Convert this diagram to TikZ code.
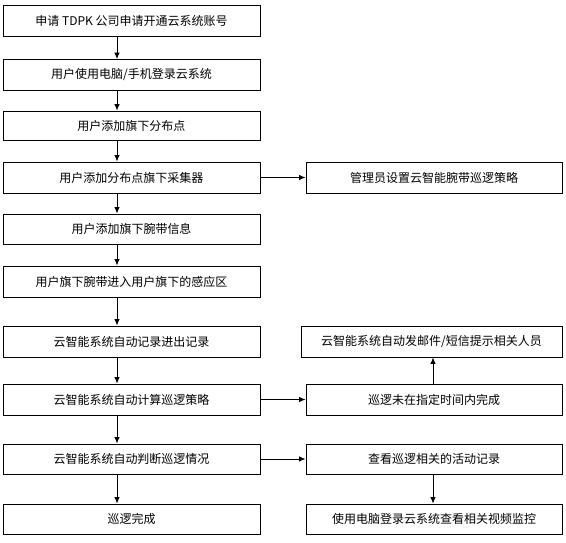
\documentclass[tikz,border=0pt]{standalone}
\usepackage{fontspec}
\setmainfont{Noto Sans CJK SC}
\usetikzlibrary{arrows.meta,calc}
\begin{document}
\begin{tikzpicture}[x=1pt,y=-1pt,
  box/.style={draw=black,line width=0.9pt,inner sep=0pt,font=\fontsize{12}{14}\selectfont},
  lbox/.style={box,minimum width=257pt,minimum height=31pt},
  rbox/.style={box,minimum width=256pt,minimum height=31pt},
  arr/.style={-{Latex[length=6.5pt,width=5.5pt]},line width=0.9pt}]
\useasboundingbox (0,0) rectangle (566,543);
\node[lbox] (l1) at (131.5,20.5) {申请 TDPK 公司申请开通云系统账号};
\node[lbox] (l2) at (131.5,75) {用户使用电脑/手机登录云系统};
\node[lbox,minimum height=29pt] (l3) at (131.5,125.5) {用户添加旗下分布点};
\node[lbox] (l4) at (131.5,177.5) {用户添加分布点旗下采集器};
\node[lbox,minimum height=30pt] (l5) at (131.5,229) {用户添加旗下腕带信息};
\node[lbox] (l6) at (131.5,281.5) {用户旗下腕带进入用户旗下的感应区};
\node[lbox] (l7) at (131.5,341.5) {云智能系统自动记录进出记录};
\node[lbox] (l8) at (131.5,399.5) {云智能系统自动计算巡逻策略};
\node[lbox,minimum height=30pt] (l9) at (131.5,459) {云智能系统自动判断巡逻情况};
\node[lbox,minimum height=30pt] (l10) at (131.5,519) {巡逻完成};
\node[rbox] (r4) at (434,177.5) {管理员设置云智能腕带巡逻策略};
\node[box,minimum width=261pt,minimum height=31pt] (r7) at (431.5,341.5) {云智能系统自动发邮件/短信提示相关人员};
\node[rbox] (r8) at (434,399.5) {巡逻未在指定时间内完成};
\node[rbox,minimum height=30pt] (r9) at (434,459) {查看巡逻相关的活动记录};
\node[rbox,minimum height=30pt] (r10) at (434,519) {使用电脑登录云系统查看相关视频监控};
\coordinate (ax) at (117,0);
\coordinate (bx) at (433,0);
\foreach \a/\b in {l1/l2,l2/l3,l3/l4,l4/l5,l5/l6,l6/l7,l7/l8,l8/l9,l9/l10}
  \draw[arr] (\a.south -| ax) -- (\b.north -| ax);
\draw[arr] (l4.east) -- (r4.west);
\draw[arr] (l8.east) -- (r8.west);
\draw[arr] (l9.east) -- (r9.west);
\draw[arr] (r8.north -| bx) -- (r7.south -| bx);
\draw[arr] (r9.south -| bx) -- (r10.north -| bx);
\end{tikzpicture}
\end{document}
